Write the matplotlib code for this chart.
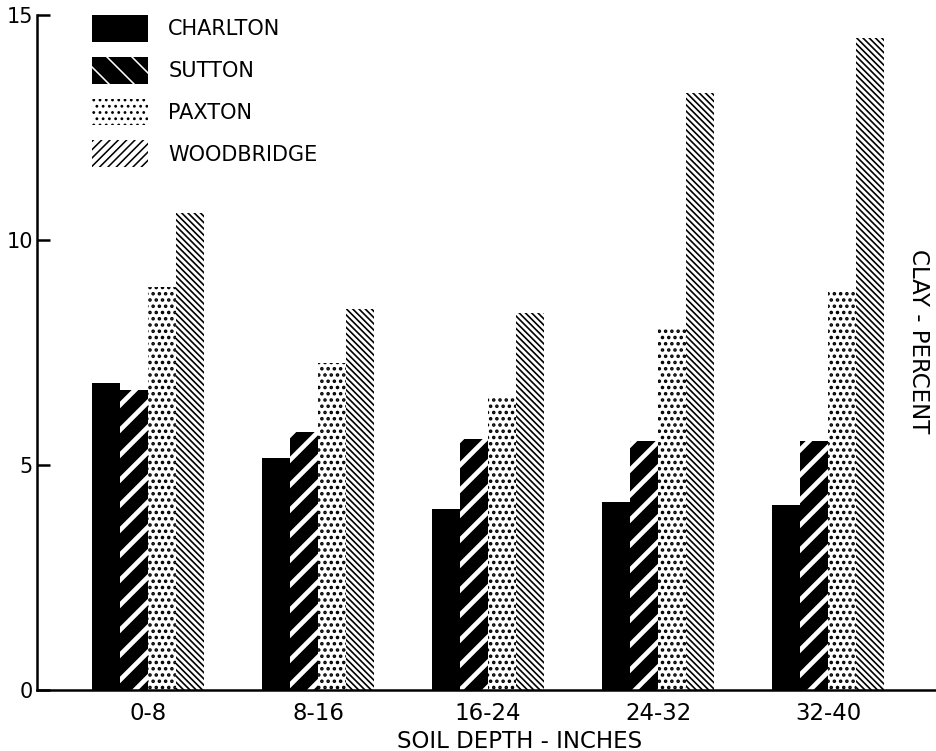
import numpy as np
import matplotlib
matplotlib.use("Agg")
import matplotlib.pyplot as plt
from matplotlib.patches import Patch

# clay percent by soil depth
depths = ["0-8", "8-16", "16-24", "24-32", "32-40"]
charlton = [6.82, 5.16, 4.02, 4.18, 4.11]
sutton = [6.67, 5.73, 5.57, 5.53, 5.53]
paxton = [8.96, 7.27, 6.48, 8.04, 8.87]
woodbridge = [10.6, 8.47, 8.37, 13.27, 14.5]

plt.rcParams['font.family'] = ['DejaVu Sans']

# low dpi so the hatch spacing comes out close to the printed figure
DPI = 75
fig = plt.figure(figsize=(936 / DPI, 751 / DPI), dpi=DPI)
ax = fig.add_axes([37 / 936, 1 - 690 / 751, 1 - 37 / 936, (690 - 15) / 751])

x = np.arange(len(depths))
w = 0.166

# Charlton: solid black
ax.bar(x - 1.5 * w, charlton, w, color="black", linewidth=0)

# Sutton: black with thick white stripes
plt.rcParams['hatch.linewidth'] = 4.5
ax.bar(x - 0.5 * w, sutton, w, facecolor="black", edgecolor="white",
       hatch="/", linewidth=0)

# Paxton: dotted
plt.rcParams['hatch.linewidth'] = 2.2
ax.bar(x + 0.5 * w, paxton, w, facecolor="white", edgecolor="black",
       hatch="..", linewidth=0)

# Woodbridge: fine black diagonal lines
plt.rcParams['hatch.linewidth'] = 1.6
ax.bar(x + 1.5 * w, woodbridge, w, facecolor="white", edgecolor="black",
       hatch="\\\\\\\\", linewidth=0)

ax.set_xlim(-0.653, 4.635)
ax.set_ylim(0, 15)
ax.set_yticks([0, 5, 10, 15])
ax.set_yticklabels(["0", "5", "10", "15"])
ax.set_xticks(x)
ax.set_xticklabels(depths)

for s in ["top", "right"]:
    ax.spines[s].set_visible(False)
ax.spines["left"].set_linewidth(2.4)
ax.spines["bottom"].set_linewidth(2.4)

ax.tick_params(axis="y", direction="in", length=12, width=2.4, pad=4, labelsize=20)
ax.tick_params(axis="x", length=0, pad=12, labelsize=22)

ax.set_xlabel("SOIL DEPTH - INCHES", fontsize=22, va="center")
ax.xaxis.set_label_coords((520 - 37) / 899, -(741 - 690) / 675)

fig.text(919 / 936, 1 - 341 / 751, "CLAY - PERCENT", rotation=270,
         ha="center", va="center", fontsize=22)

# legend (swatches drawn like the printed key)
plt.rcParams['hatch.linewidth'] = 4.5
sw_sutton = Patch(facecolor="black", edgecolor="white", hatch="\\", linewidth=0)
plt.rcParams['hatch.linewidth'] = 2.2
sw_paxton = Patch(facecolor="white", edgecolor="black", hatch="..", linewidth=0)
plt.rcParams['hatch.linewidth'] = 1.5
sw_wood = Patch(facecolor="white", edgecolor="black", hatch="///", linewidth=0)
handles = [
    Patch(facecolor="black", edgecolor="black", linewidth=0),
    sw_sutton,
    sw_paxton,
    sw_wood,
]
labels = ["CHARLTON", "SUTTON", "PAXTON", "WOODBRIDGE"]
ax.legend(handles, labels, loc="upper left", bbox_to_anchor=(92 / 936, 1 - 15 / 751),
          bbox_transform=fig.transFigure, frameon=False, fontsize=20,
          handlelength=2.7, handleheight=1.6, labelspacing=0.72,
          handletextpad=0.96, borderpad=0, borderaxespad=0)

fig.savefig("out.png", dpi=DPI)
